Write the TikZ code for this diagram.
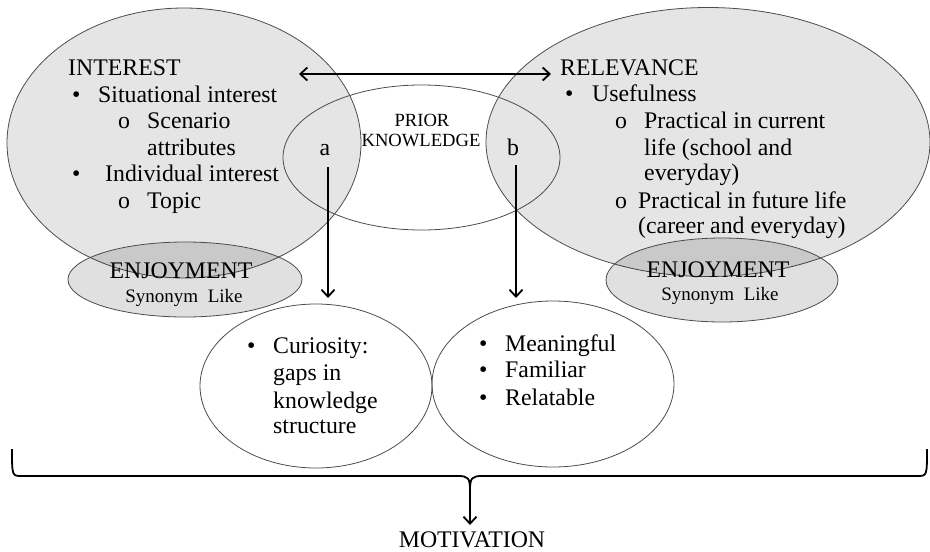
\documentclass[tikz,border=0pt]{standalone}
\usepackage{fontspec}
\setmainfont{Liberation Serif}
\usetikzlibrary{arrows.meta,shapes.geometric}
\begin{document}
\begin{tikzpicture}[x=1pt,y=-1pt,
  outl/.style={draw=black!70, line width=0.8pt},
  bigell/.style={ellipse, outl, fill=black!10, inner sep=0pt},
  joyell/.style={ellipse, outl, fill=black, fill opacity=0.12, inner sep=0pt},
  plainell/.style={ellipse, outl, inner sep=0pt},
  txt/.style={anchor=base west, inner sep=0pt, font=\fontsize{23.8}{27}\selectfont},
  ctxt/.style={anchor=base, inner sep=0pt, font=\fontsize{23.8}{27}\selectfont},
  stxt/.style={anchor=base, inner sep=0pt, font=\fontsize{18.6}{20}\selectfont},
  syntxt/.style={anchor=base, inner sep=0pt, font=\fontsize{19}{20}\selectfont},
  arr/.style={line width=1.8pt, -{Straight Barb[length=7pt,width=13pt]}},
  darr/.style={line width=1.8pt, {Straight Barb[length=7pt,width=13pt]}-{Straight Barb[length=7pt,width=13pt]}},
  bracestyle/.style={line width=1.8pt}
]
\useasboundingbox (0,0) rectangle (930,552);

% big ellipses
\node[bigell, minimum width=354pt, minimum height=270pt] (interest) at (184,143) {};
\node[bigell, minimum width=444pt, minimum height=269pt] (relevance) at (708,142) {};
\node[plainell, minimum width=277pt, minimum height=145pt] (prior) at (421.5,157.5) {};
\node[joyell, minimum width=234pt, minimum height=75pt] (joyL) at (185,279.5) {};
\node[joyell, minimum width=232pt, minimum height=84pt] (joyR) at (722,280) {};
\node[plainell, minimum width=232pt, minimum height=164pt] (curios) at (316,386) {};
\node[plainell, minimum width=242pt, minimum height=166pt] (meaning) at (553,384) {};

% INTEREST text
\node[txt] (iT) at (68,75) {INTEREST};
\node[txt] (iB1) at (72,102) {•};
\node[txt] (iL1) at (98,102) {Situational interest};
\node[txt] (iO1) at (118,128) {o};
\node[txt] (iL2) at (147,128) {Scenario};
\node[txt] (iL3) at (147,155) {attributes};
\node[txt] (iB2) at (72,181) {•};
\node[txt] (iL4) at (105,181) {Individual interest};
\node[txt] (iO2) at (118,208) {o};
\node[txt] (iL5) at (147,208) {Topic};

% RELEVANCE text
\node[txt] (rT) at (560,75) {RELEVANCE};
\node[txt] (rB1) at (565,101) {•};
\node[txt] (rL1) at (592,101) {Usefulness};
\node[txt] (rO1) at (615,128) {o};
\node[txt] (rL2) at (644,128) {Practical in current};
\node[txt] (rL3) at (644,155) {life (school and};
\node[txt] (rL4) at (644,180) {everyday)};
\node[txt] (rO2) at (615,208) {o};
\node[txt] (rL5) at (638,208) {Practical in future life};
\node[txt] (rL6) at (638,233) {(career and everyday)};

% ENJOYMENT texts
\node[ctxt] (jLt) at (181,278) {ENJOYMENT};
\node[syntxt] (jLs) at (184,302) {Synonym\hspace{0.5em}Like};
\node[ctxt] (jRt) at (718,277) {ENJOYMENT};
\node[syntxt] (jRs) at (720,300) {Synonym\hspace{0.5em}Like};

% PRIOR KNOWLEDGE
\node[stxt] (pk1) at (422,126) {PRIOR};
\node[stxt] (pk2) at (421,146) {KNOWLEDGE};
\node[ctxt] (la) at (325,155) {a};
\node[ctxt] (lb) at (513,155) {b};

% Curiosity
\node[txt] (cB) at (247,353) {•};
\node[txt] (c1) at (273,353) {Curiosity:};
\node[txt] (c2) at (273,380) {gaps in};
\node[txt] (c3) at (273,408) {knowledge};
\node[txt] (c4) at (273,433) {structure};

% Meaningful
\node[txt] (mB1) at (479,351) {•};
\node[txt] (m1) at (505,351) {Meaningful};
\node[txt] (mB2) at (479,377) {•};
\node[txt] (m2) at (505,377) {Familiar};
\node[txt] (mB3) at (479,405) {•};
\node[txt] (m3) at (505,405) {Relatable};

% MOTIVATION
\node[ctxt] (mot) at (472,547) {MOTIVATION};

% arrows
\coordinate (dL) at (299,74);
\coordinate (dR) at (551,74);
\draw[darr] (dL) -- (dR);
\coordinate (aTop) at (328,167);
\coordinate (aBot) at (328,298);
\draw[arr] (aTop) -- (aBot);
\coordinate (bTop) at (516,165);
\coordinate (bBot) at (516,298);
\draw[arr] (bTop) -- (bBot);

% brace
\coordinate (brL) at (12,449);
\coordinate (brR) at (927,449);
\coordinate (brTip) at (470,490);
\coordinate (motTop) at (470,525);
\draw[bracestyle] (brL) .. controls (12,476) and (12,476) .. (22,476) -- (458,476)
  .. controls (468,476) and (470,478) .. (brTip)
  .. controls (470,478) and (472,476) .. (482,476) -- (917,476)
  .. controls (927,476) and (927,476) .. (brR);
\draw[arr] (470,486) -- (motTop);
\end{tikzpicture}
\end{document}
